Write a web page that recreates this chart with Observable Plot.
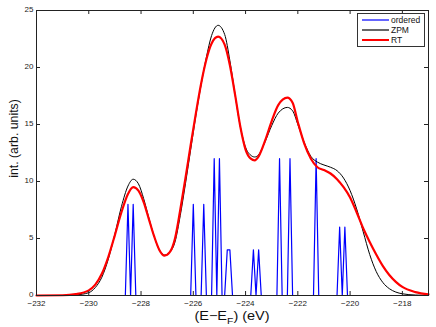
<!DOCTYPE html>
<html><head><meta charset="utf-8">
<script src="https://cdn.jsdelivr.net/npm/d3@7"></script>
<script src="https://cdn.jsdelivr.net/npm/@observablehq/plot@0.6"></script>
<style>
body{margin:0;background:#fff;}
#chart{position:relative;width:436px;height:327px;}
</style></head><body><div id="chart"></div>
<script>
// ---- data ----
const xTicks = [-232, -230, -228, -226, -224, -222, -220, -218];
const yTicks = [0, 5, 10, 15, 20, 25];

// broadened spectra
const energy = [-232, -231, -230.5, -230, -229.75, -229.5, -229.25, -229, -228.75, -228.5,
  -228.3, -228.1, -227.9, -227.7, -227.5, -227.3, -227.1, -226.9, -226.7, -226.5,
  -226.3, -226.1, -225.9, -225.7, -225.5, -225.3, -225.05, -224.8, -224.6, -224.4,
  -224.2, -224.0, -223.8, -223.65, -223.5, -223.25, -223.0, -222.75, -222.4, -222.2,
  -222.0, -221.75, -221.5, -221.25, -221.0, -220.75, -220.5, -220.25, -220.0, -219.75,
  -219.5, -219.25, -219.0, -218.75, -218.5, -218.25, -218.0, -217.5, -217];
const zpm = [0, 0, 0.05, 0.25, 0.7, 1.6, 3.2, 5.4, 7.8, 9.6,
  10.2, 9.8, 8.5, 6.8, 5.2, 4.0, 3.55, 3.8, 4.7, 7.0,
  9.8, 12.8, 15.8, 18.5, 20.9, 22.8, 23.7, 22.9, 20.6, 17.6,
  14.8, 13.0, 12.3, 12.15, 12.35, 13.5, 14.9, 16.0, 16.5, 16.2,
  15.0, 13.4, 12.2, 11.7, 11.45, 11.25, 10.95, 10.3, 9.2, 7.6,
  5.6, 3.6, 2.1, 1.15, 0.6, 0.3, 0.15, 0.04, 0.01];
const rt = [0, 0.02, 0.12, 0.45, 0.95, 1.9, 3.4, 5.3, 7.3, 8.9,
  9.5, 9.2, 8.2, 6.7, 5.2, 4.0, 3.5, 3.8, 5.0, 7.5,
  10.3, 13.2, 16.0, 18.6, 20.7, 22.1, 22.7, 22.0, 20.2, 17.6,
  14.8, 12.8, 12.0, 11.85, 12.2, 13.6, 15.3, 16.7, 17.35, 16.9,
  15.2, 13.3, 12.0, 11.25, 11.0, 10.7, 10.2, 9.5, 8.6, 7.3,
  5.9, 4.7, 3.6, 2.6, 1.8, 1.2, 0.75, 0.3, 0.1];

// ordered (stick) spectrum on a 0.1 eV grid
const stickE = [-228.5, -228.3, -226.0, -225.6, -225.2, -225.0, -224.7, -224.6,
  -223.7, -223.5, -222.7, -222.3, -221.3, -220.4, -220.2];
const stickH = [8, 8, 8, 8, 12, 12, 4, 4, 4, 4, 12, 12, 12, 6, 6];
const gridStep = 0.1;
const xDomain = [-232, -217];
const yDomain = [0, 25];

const seriesNames = ["ordered", "ZPM", "RT"];
const seriesColors = ["#0000ff", "#000000", "#ff0000"];

// ---- build tables ----
const curves = energy.map((e, i) => ({e, zpm: zpm[i], rt: rt[i]}));
const sticks = [{e: xDomain[0], v: 0}];
stickE.forEach((e, i) => {
  const prev = stickE[i - 1], next = stickE[i + 1];
  if (prev === undefined || e - prev > gridStep * 1.5) sticks.push({e: e - gridStep, v: 0});
  sticks.push({e, v: stickH[i]});
  if (next === undefined || next - e > gridStep * 1.5) sticks.push({e: e + gridStep, v: 0});
});
sticks.push({e: xDomain[1], v: 0});

const W = 436, H = 327;
const mL = 36, mR = 8, mT = 10, mB = 32;
const pW = W - mL - mR, pH = H - mT - mB;
const tl = 4;
const axisColor = "#222";
const FONT = "'Liberation Sans', Arial, sans-serif";

const svg = Plot.plot({
  width: W, height: H,
  marginLeft: mL, marginRight: mR, marginTop: mT, marginBottom: mB,
  style: {fontFamily: FONT, background: "#fff"},
  x: {domain: xDomain},
  y: {domain: yDomain},
  marks: [
    Plot.line(sticks, {x: "e", y: "v", stroke: seriesColors[0], strokeWidth: 1.2}),
    Plot.line(curves, {x: "e", y: "zpm", stroke: seriesColors[1], strokeWidth: 1, curve: "monotone-x"}),
    Plot.line(curves, {x: "e", y: "rt", stroke: seriesColors[2], strokeWidth: 2.2, curve: "monotone-x"}),
    Plot.tickX(xTicks, {x: d => d, insetTop: pH - tl, stroke: axisColor}),
    Plot.tickX(xTicks, {x: d => d, insetBottom: pH - tl, stroke: axisColor}),
    Plot.tickY(yTicks, {y: d => d, insetRight: pW - tl, stroke: axisColor}),
    Plot.tickY(yTicks, {y: d => d, insetLeft: pW - tl, stroke: axisColor}),
    Plot.frame({stroke: axisColor, strokeWidth: 1}),
    Plot.axisX({ticks: xTicks, tickSize: 0, tickPadding: 5, fontSize: 8, color: axisColor, label: null}),
    Plot.axisY({ticks: yTicks, tickSize: 0, tickPadding: 3, dy: -1.5, fontSize: 8, color: axisColor, label: null})
  ]
});

const s = d3.select(svg);
// axis labels
const xl = s.append("text")
  .attr("transform", "translate(232,319.5) scale(1.16,1)")
  .attr("text-anchor", "middle")
  .attr("font-size", 12.5).attr("fill", "#111")
  .attr("font-family", FONT);
xl.append("tspan").text("(E\u2212E");
xl.append("tspan").attr("font-size", 9).attr("dy", 4).text("F");
xl.append("tspan").attr("dy", -4).text(") (eV)");

s.append("text")
  .attr("transform", "translate(18,138.5) rotate(-90)")
  .attr("text-anchor", "middle")
  .attr("font-size", 12.3).attr("fill", "#111")
  .attr("font-family", FONT)
  .text("int. (arb. units)");

// legend
const lg = s.append("g").attr("font-family", FONT).attr("text-anchor", "start");
lg.append("rect").attr("x", 357.5).attr("y", 13.5).attr("width", 67).attr("height", 33)
  .attr("fill", "#fff").attr("stroke", "#333");
seriesNames.forEach((n, i) => {
  const y = 20 + i * 10;
  lg.append("line").attr("x1", 362).attr("x2", 389).attr("y1", y).attr("y2", y)
    .attr("stroke", seriesColors[i]).attr("stroke-width", i === 2 ? 2 : 1.2);
  lg.append("text").attr("x", 391).attr("y", y).attr("dy", "0.35em")
    .attr("text-anchor", "start")
    .attr("font-size", 8.5).attr("fill", "#111").text(n);
});

document.getElementById("chart").appendChild(svg);
</script></body></html>
